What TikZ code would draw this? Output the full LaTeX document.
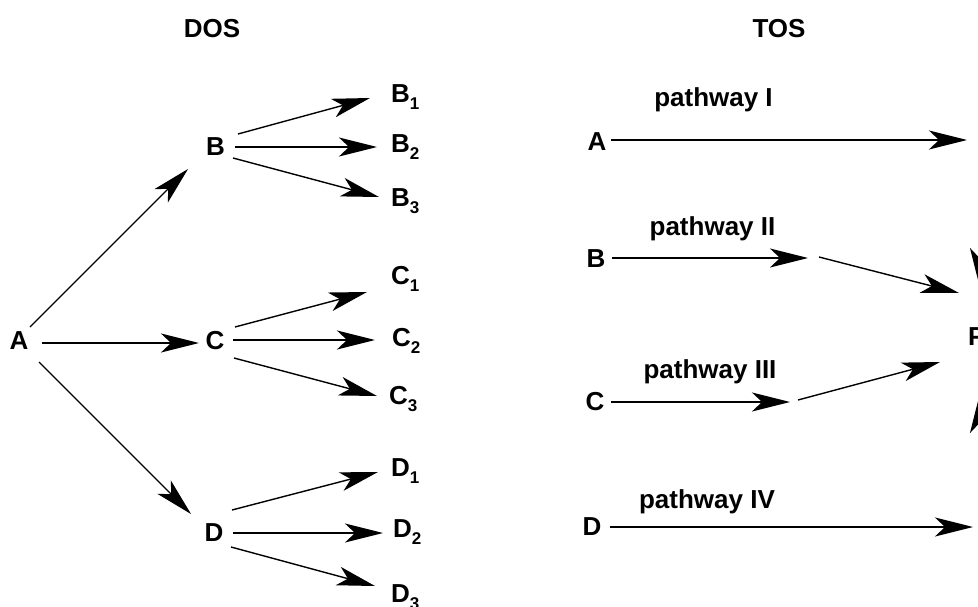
\documentclass[tikz,border=0pt]{standalone}
\usepackage{fontspec}
\setmainfont{Liberation Sans}
\usetikzlibrary{arrows.meta,calc}
\tikzset{
  lbl/.style={font=\fontsize{26}{30}\selectfont\bfseries, inner sep=0pt, text height=18pt, text depth=0pt},
  pw/.style={font=\fontsize{26}{30}\selectfont\bfseries, inner sep=0pt, anchor=base},
  myarr/.style={-{Stealth[length=38pt,width=19pt,inset=10pt]}},
  hline/.style={myarr, line width=2pt},
  dline/.style={myarr, line width=1.4pt},
}
\newcommand{\sublbl}[2]{#1\raisebox{-7pt}{\fontsize{17}{17}\selectfont #2}}
\begin{document}
\begin{tikzpicture}[x=1pt,y=-1pt]
\useasboundingbox (0,0) rectangle (978,607);
\clip (0,0) rectangle (978,607);
% ---------- DOS ----------
\node[lbl] (dos) at (212,28.5) {DOS};
\node[lbl] (A) at (19,340.5) {A};
\node[lbl] (B) at (215.5,147) {B};
\node[lbl] (C) at (215,340.5) {C};
\node[lbl] (D) at (214,532) {D};
\node[lbl,anchor=west] (B1) at (391,93.5) {\sublbl{B}{1}};
\node[lbl,anchor=west] (B2) at (391,143.5) {\sublbl{B}{2}};
\node[lbl,anchor=west] (B3) at (391,198) {\sublbl{B}{3}};
\node[lbl,anchor=west] (C1) at (391,275) {\sublbl{C}{1}};
\node[lbl,anchor=west] (C2) at (392,337.5) {\sublbl{C}{2}};
\node[lbl,anchor=west] (C3) at (389,395) {\sublbl{C}{3}};
\node[lbl,anchor=west] (D1) at (391,467.5) {\sublbl{D}{1}};
\node[lbl,anchor=west] (D2) at (393,528) {\sublbl{D}{2}};
\node[lbl,anchor=west] (D3) at (391,593.5) {\sublbl{D}{3}};
\draw[dline] ($(A)+(11,-13.5)$) -- ($(B)+(-27.5,22)$);
\draw[hline] ($(A)+(23,2.5)$) -- ($(C)+(-16,2.5)$);
\draw[dline] ($(A)+(20,21.5)$) -- ($(D)+(-23,-18)$);
\draw[dline] ($(B)+(22.5,-13)$) -- ($(B1.west)+(-21,4.5)$);
\draw[hline] ($(B)+(19.5,0)$) -- ($(B2.west)+(-14,3.5)$);
\draw[dline] ($(B)+(17.5,11)$) -- ($(B3.west)+(-12,-1)$);
\draw[dline] ($(C)+(20,-13.5)$) -- ($(C1.west)+(-24,17)$);
\draw[hline] ($(C)+(18,-0.5)$) -- ($(C2.west)+(-17,2.5)$);
\draw[dline] ($(C)+(19,17.5)$) -- ($(C3.west)+(-12,1)$);
\draw[dline] ($(D)+(18,-22)$) -- ($(D1.west)+(-13,4.5)$);
\draw[hline] ($(D)+(19,1)$) -- ($(D2.west)+(-10,5)$);
\draw[dline] ($(D)+(17,15)$) -- ($(D3.west)+(-16,-7.5)$);
% ---------- TOS ----------
\node[lbl] (tos) at (779,28.5) {TOS};
\node[lbl] (RA) at (597,141.5) {A};
\node[lbl] (RB) at (596,258.5) {B};
\node[lbl] (RC) at (595,401) {C};
\node[lbl] (RD) at (592,526) {D};
\node[lbl,anchor=west] (P) at (968,336) {P};
\node[pw] (pw1) at (713.5,106.7) {pathway I};
\node[pw] (pw2) at (712.5,235) {pathway II};
\node[pw] (pw3) at (710,378) {pathway III};
\node[pw] (pw4) at (707,508) {pathway IV};
\coordinate (aend) at (967,140);
\coordinate (bi) at (813,257.5);
\coordinate (ci) at (794,401);
\coordinate (dend) at (973,527);
\coordinate (etop) at (979.5,150);
\coordinate (fbot) at (979.5,560);
\draw[hline] ($(RA)+(14,-1.5)$) -- (aend);
\draw[hline] ($(RB)+(16,-0.5)$) -- ($(bi)+(-5,0.5)$);
\draw[dline] ($(bi)+(6,-0.5)$) -- ($(P.west)+(-9,-43)$);
\draw[hline] ($(RC)+(16,1)$) -- ($(ci)+(-4,1)$);
\draw[dline] ($(ci)+(4,-1)$) -- ($(P.west)+(-28,26)$);
\draw[hline] ($(RD)+(18,1)$) -- (dend);
\draw[hline] (etop) -- ($(P.west)+(11.5,-50)$);
\draw[hline] (fbot) -- ($(P.west)+(11.5,59)$);
\end{tikzpicture}
\end{document}
